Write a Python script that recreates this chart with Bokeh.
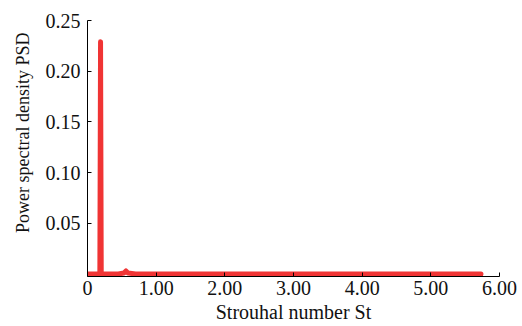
from bokeh.plotting import figure
from bokeh.models import Range1d, FixedTicker, Title
from bokeh.embed import file_html
from bokeh.resources import INLINE

# Data
st = [0.00, 0.10, 0.16, 0.18, 0.19, 0.20, 0.22, 0.30, 0.45, 0.53, 0.56, 0.59, 0.70,
      1.00, 2.00, 3.00, 4.00, 5.00, 5.73]
psd = [0.000, 0.000, 0.000, 0.001, 0.229, 0.001, 0.000, 0.000, 0.000, 0.001, 0.003, 0.001, 0.000,
       0.000, 0.000, 0.000, 0.000, 0.000, 0.000]

x_ticks = [0, 1, 2, 3, 4, 5, 6]
x_tick_labels = ["0", "1.00", "2.00", "3.00", "4.00", "5.00", "6.00"]
y_ticks = [0.05, 0.10, 0.15, 0.20, 0.25]
y_tick_labels = ["0.05", "0.10", "0.15", "0.20", "0.25"]

x_title = "Strouhal number St"
y_title = "Power spectral density PSD"

FONT = "Liberation Serif"

p = figure(width=522, height=326, output_backend="svg", toolbar_location=None,
           x_range=Range1d(0, 6), y_range=Range1d(-0.0025, 0.25),
           min_border_left=87, min_border_right=23, min_border_top=20, min_border_bottom=50)
p.outline_line_color = None
p.grid.visible = False
p.background_fill_color = "white"
p.border_fill_color = "white"

p.line(st, psd, line_color="#f03434", line_width=5, line_cap="round", line_join="round")

for ax, ticks, labels in ((p.xaxis[0], x_ticks, x_tick_labels), (p.yaxis[0], y_ticks, y_tick_labels)):
    ax.ticker = FixedTicker(ticks=ticks)
    ax.major_label_overrides = {t: l for t, l in zip(ticks, labels)}
    ax.major_tick_in = 4
    ax.major_tick_out = 0
    ax.minor_tick_line_color = None
    ax.axis_line_color = "black"
    ax.major_tick_line_color = "black"
    ax.major_label_text_font = FONT
    ax.major_label_text_font_size = "20px"
    ax.major_label_text_color = "#111111"

p.xaxis.major_label_standoff = 4
p.yaxis.major_label_standoff = 7

p.xaxis.axis_label = x_title
p.xaxis.axis_label_text_font = FONT
p.xaxis.axis_label_text_font_size = "20px"
p.xaxis.axis_label_text_font_style = "normal"
p.xaxis.axis_label_text_color = "#111111"
p.xaxis.axis_label_standoff = 3

p.add_layout(Title(text=y_title, text_font=FONT, text_font_size="18px", text_font_style="normal",
                   text_color="#111111", align="right", offset=12, standoff=19), "left")

open("out.html", "w").write(file_html(p, INLINE))
